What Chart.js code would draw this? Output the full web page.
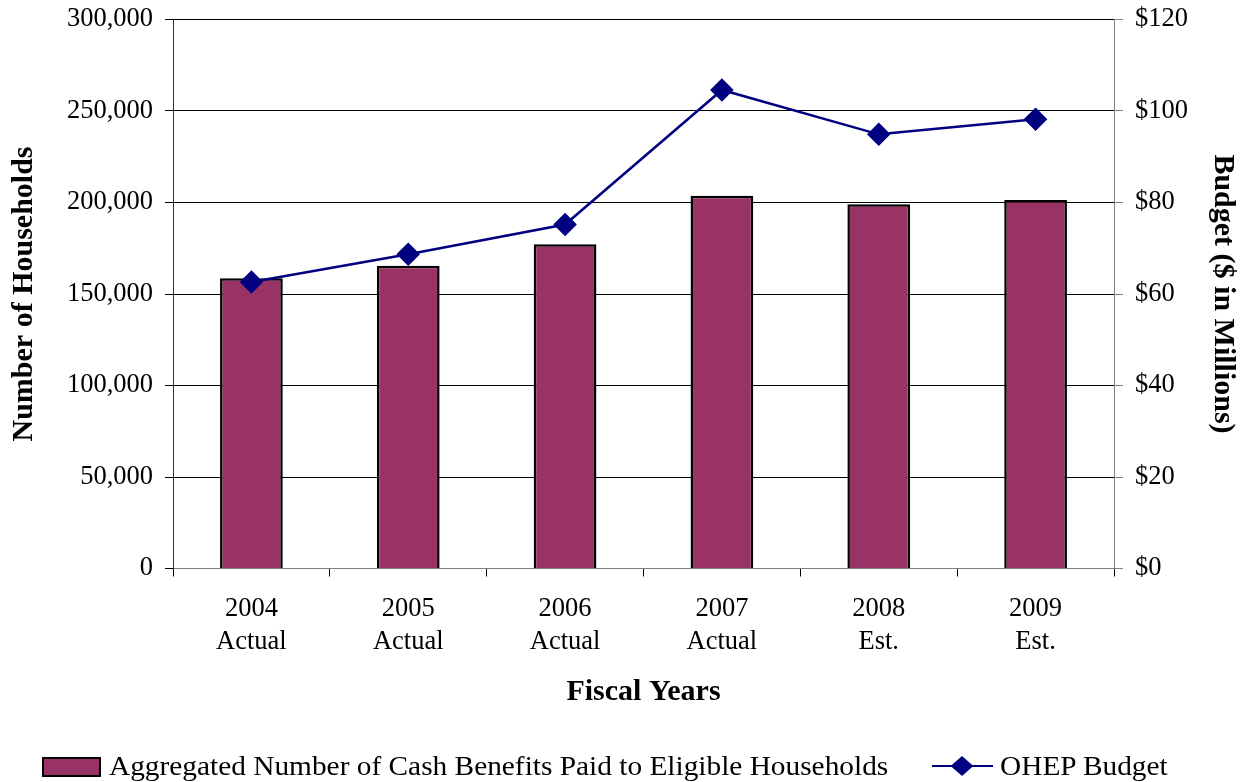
<!DOCTYPE html>
<html>
<head>
<meta charset="utf-8">
<script src="https://cdn.jsdelivr.net/npm/chart.js@4"></script>
<style>
  body { margin: 0; background: #fff; }
  #wrap { position: relative; width: 1244px; height: 782px; }
  #legend {
    position: absolute; left: 0; top: 746px; width: 1244px; height: 40px;
    font-family: "Liberation Serif", serif; font-size: 27px; color: #000;
  }
  .box { position: absolute; left: 42px; top: 11px; width: 55px; height: 16px; background: #993366; border: 2.5px solid #000; }
  .txt { position: absolute; top: 0; line-height: 40px; white-space: nowrap; transform: scaleX(1.087); transform-origin: left center; }
  .ln { position: absolute; left: 932px; top: 18.5px; width: 61px; height: 2.5px; background: #000080; }
  .dm { position: absolute; left: 955px; top: 12.5px; width: 14px; height: 14px; background: #000080; transform: scaleX(1.15) rotate(45deg); }
</style>
</head>
<body>
<div id="wrap">
  <canvas id="chart" width="1244" height="782"></canvas>
  <div id="legend">
    <div class="box"></div>
    <span class="txt" style="left:109px">Aggregated Number of Cash Benefits Paid to Eligible Households</span>
    <div class="ln"></div><div class="dm"></div>
    <span class="txt" style="left:1000px">OHEP Budget</span>
  </div>
</div>
<script>
// Fiscal years and their status
var years = ['2004', '2005', '2006', '2007', '2008', '2009'];
var yearStatus = ['Actual', 'Actual', 'Actual', 'Actual', 'Est.', 'Est.'];

// Households receiving cash benefits
var households = [158600, 165500, 177200, 203700, 199000, 201400];

// OHEP budget, $ millions
var budget = [62.6, 68.7, 75.2, 104.6, 94.9, 98.2];

var labels = years.map(function(y, i) { return [y, yearStatus[i]]; });

Chart.defaults.font.family = 'Liberation Serif';
Chart.defaults.color = '#000';

var titleFont = { size: 30, weight: 'bold' };

// fixed width for the value axes, no extra room for the end labels
function fitSide(width) {
    return function(s) {
        s.width = width;
        s.paddingTop = 0;
        s.paddingBottom = 0;
    };
}

var ctx = document.getElementById('chart').getContext('2d');
new Chart(ctx, {
    data: {
        labels: labels,
        datasets: [{
            type: 'bar',
            label: 'Aggregated Number of Cash Benefits Paid to Eligible Households',
            data: households,
            yAxisID: 'y',
            backgroundColor: '#993366',
            borderColor: '#000',
            borderWidth: 2.5,
            barPercentage: 0.4,
            categoryPercentage: 1,
            order: 2
        }, {
            type: 'line',
            label: 'OHEP Budget',
            data: budget,
            yAxisID: 'y1',
            borderColor: '#000080',
            borderWidth: 2.5,
            backgroundColor: '#000080',
            pointStyle: 'rectRot',
            pointRadius: 10,
            pointHoverRadius: 10,
            tension: 0,
            order: 1
        }]
    },
    options: {
        responsive: false,
        animation: false,
        layout: { padding: { top: 19.5, left: 0, right: 0, bottom: 71.5 } },
        plugins: {
            legend: { display: false },
            tooltip: { enabled: false }
        },
        scales: {
            x: {
                grid: { drawOnChartArea: false, offset: true, tickLength: 8, color: '#000' },
                border: { color: '#808080', width: 1 },
                ticks: { font: { size: 26.5, lineHeight: 1.25 }, padding: 16, maxRotation: 0 },
                title: {
                    display: true, text: 'Fiscal Years',
                    font: titleFont, padding: { top: 0, bottom: 0 }
                },
                afterFit: function(s) { s.height = 142; }
            },
            y: {
                position: 'left',
                min: 0, max: 300000,
                ticks: {
                    stepSize: 50000, font: { size: 26.5 }, padding: 12,
                    callback: function(v) { return v.toLocaleString('en-US'); }
                },
                grid: {
                    color: function(c) { return c.index === 0 ? 'rgba(0,0,0,0)' : '#000'; },
                    tickColor: '#000', tickLength: 8
                },
                border: { color: '#333', width: 1 },
                title: {
                    display: true, text: 'Number of Households',
                    font: titleFont, padding: { top: 6, bottom: 0 }
                },
                afterFit: fitSide(173)
            },
            y1: {
                position: 'right',
                min: 0, max: 120,
                ticks: {
                    stepSize: 20, font: { size: 26.5 }, padding: 12,
                    callback: function(v) { return '$' + v; }
                },
                grid: { drawOnChartArea: false, tickColor: '#808080', tickLength: 9 },
                border: { color: '#808080', width: 1 },
                title: {
                    display: true, text: 'Budget ($ in Millions)',
                    font: titleFont, padding: { top: 3, bottom: 0 }
                },
                afterFit: fitSide(130)
            }
        }
    }
});
</script>
</body>
</html>
